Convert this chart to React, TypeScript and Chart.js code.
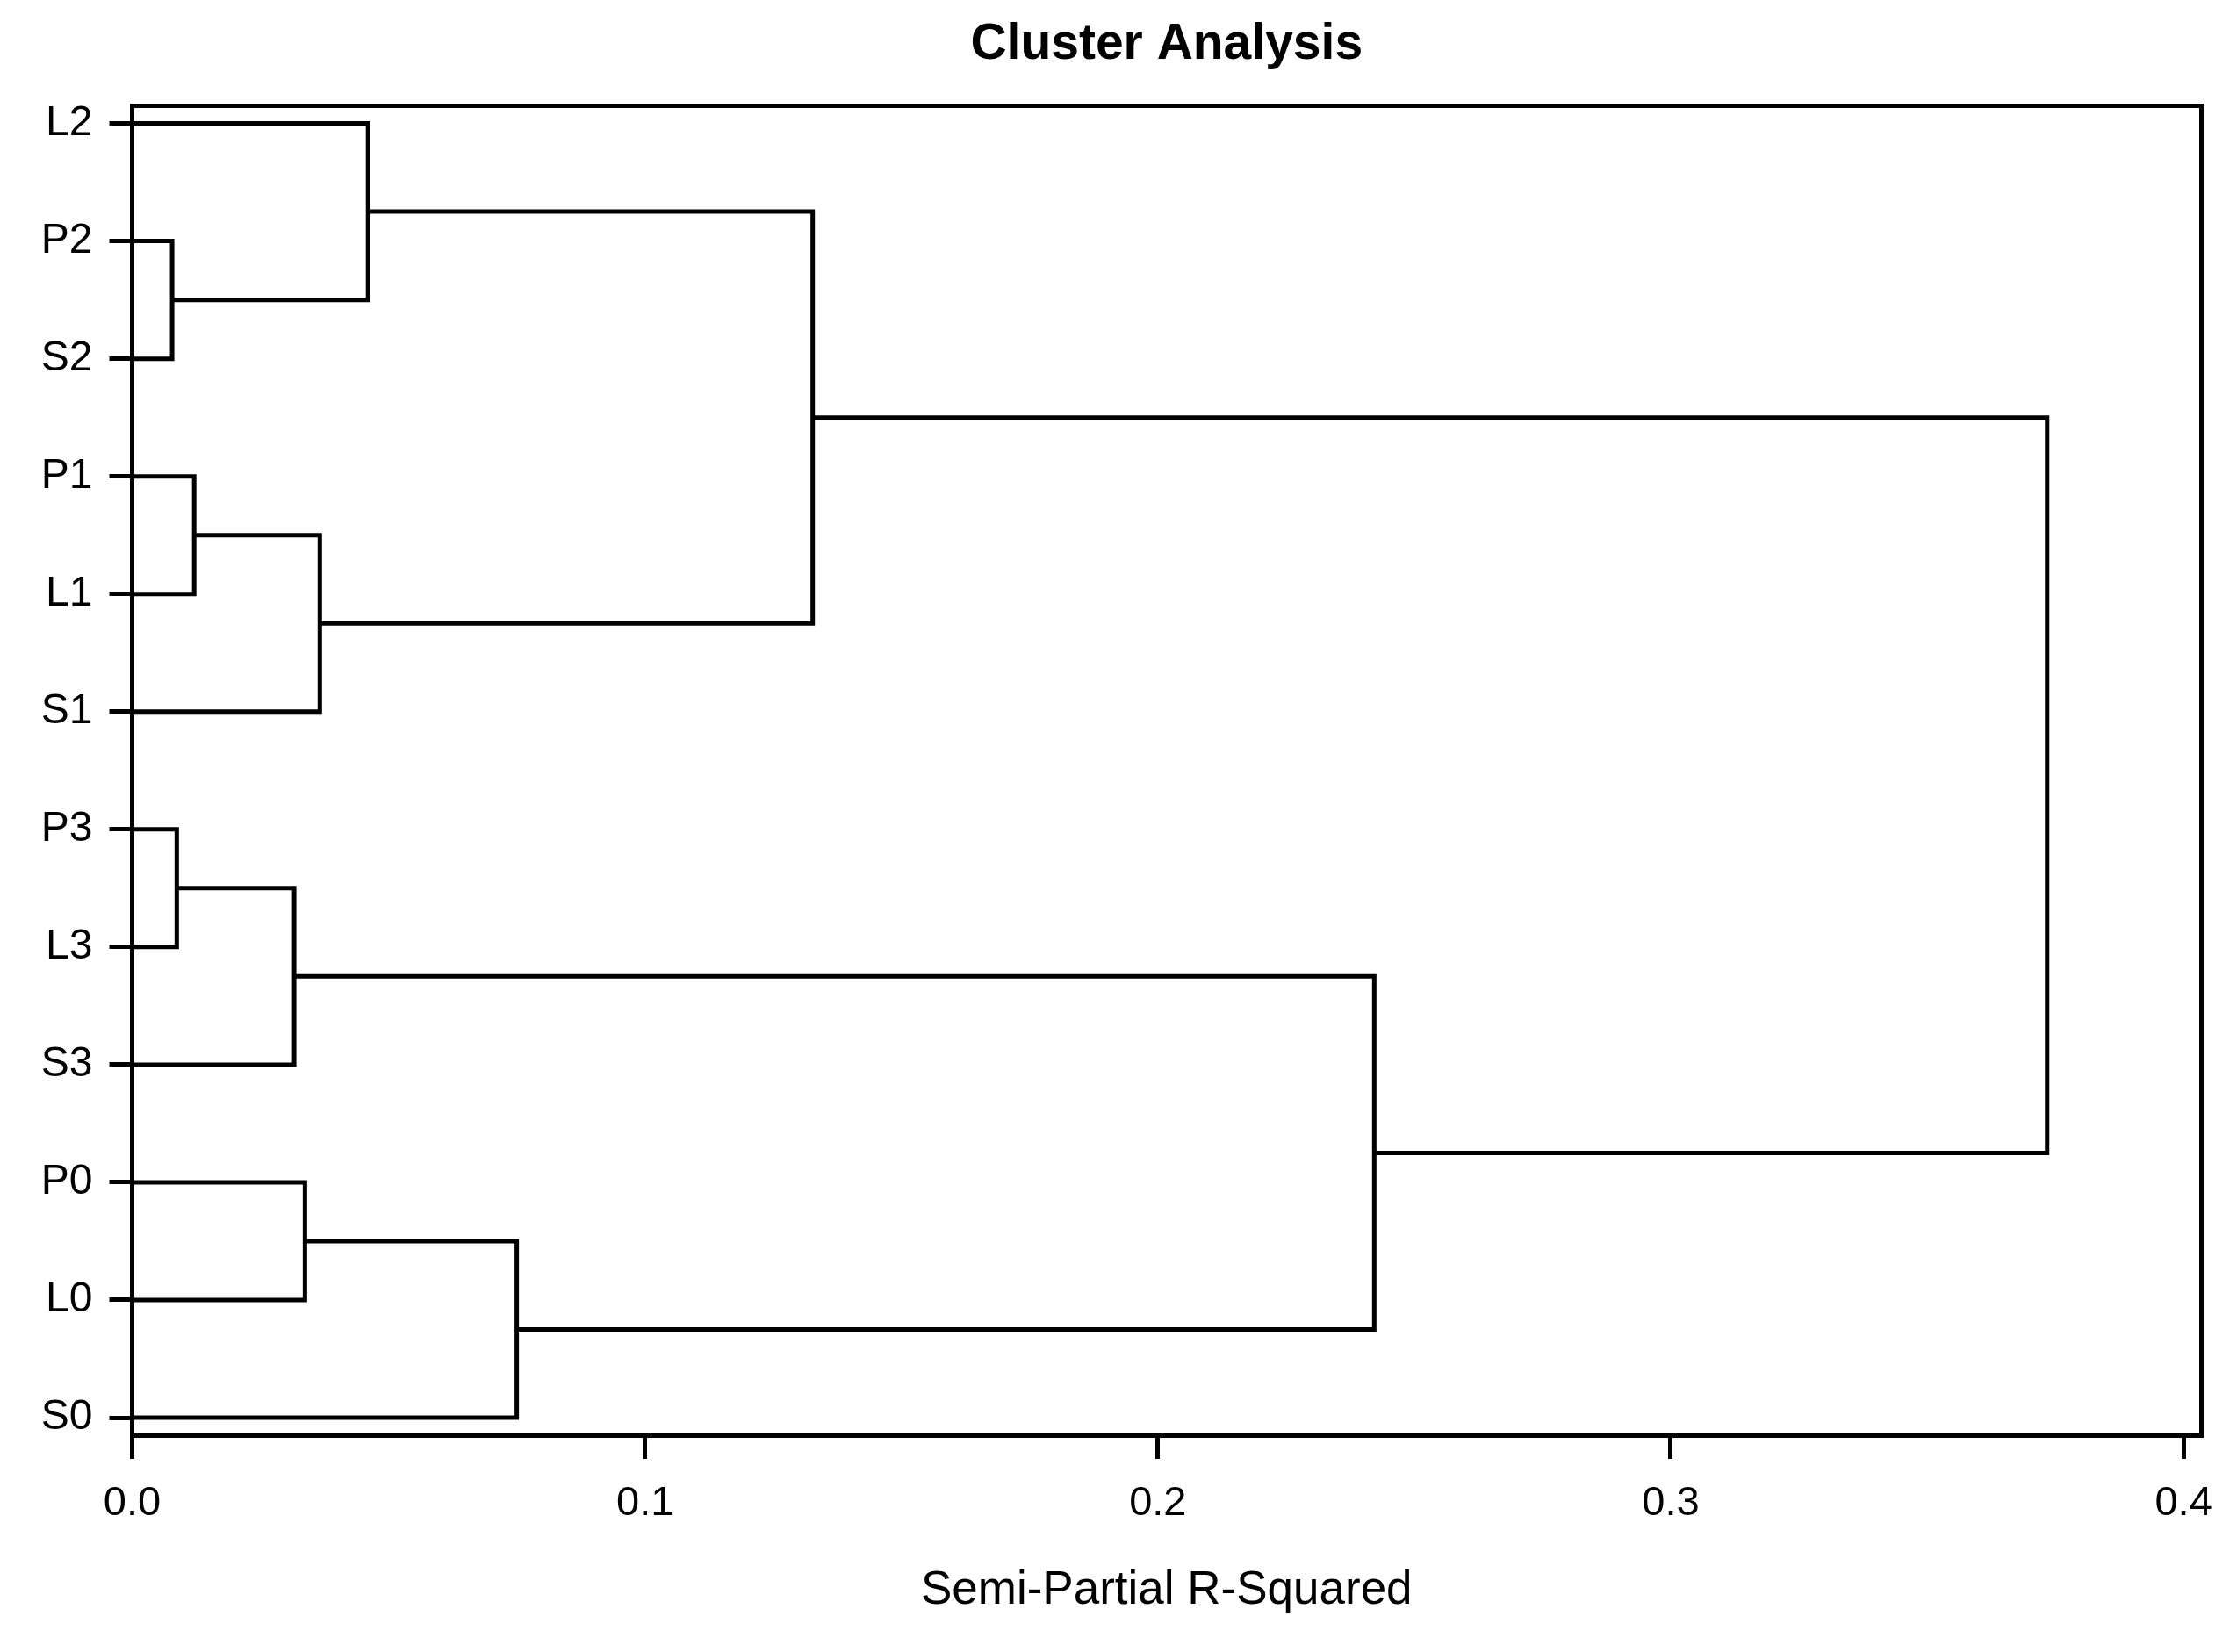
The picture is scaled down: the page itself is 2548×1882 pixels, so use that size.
import React, { useEffect, useRef } from "react";
import { Chart, registerables } from "chart.js";

Chart.register(...registerables);

// Leaves from top to bottom
const leafNames = ["L2", "P2", "S2", "P1", "L1", "S1", "P3", "L3", "S3", "P0", "L0", "S0"];
// Merge steps: node ids 0..11 are leaves, merge k creates node 12 + k
const mergeLeft = [1, 0, 3, 14, 13, 6, 17, 9, 19, 18, 16];
const mergeRight = [2, 12, 4, 5, 15, 7, 8, 10, 11, 20, 21];
const mergeHeight = [0.0078, 0.046, 0.0121, 0.0366, 0.1327, 0.0087, 0.0316, 0.0337, 0.075, 0.2422, 0.3734];
const xTickValues = [0, 0.1, 0.2, 0.3, 0.4];

const FONT = "'Liberation Sans', Arial, Helvetica, sans-serif";
const LW = 5;

function buildDatasets() {
  const nodeX: number[] = leafNames.map(() => 0);
  const nodeY: number[] = leafNames.map((_, i) => i);
  const datasets: any[] = [];
  mergeHeight.forEach((h, k) => {
    const a = mergeLeft[k];
    const b = mergeRight[k];
    datasets.push({
      data: [
        { x: nodeX[a], y: nodeY[a] },
        { x: h, y: nodeY[a] },
        { x: h, y: nodeY[b] },
        { x: nodeX[b], y: nodeY[b] },
      ],
      showLine: true,
      borderColor: "#000",
      backgroundColor: "#000",
      borderWidth: LW,
      pointRadius: 0,
      tension: 0,
      borderJoinStyle: "miter",
      borderCapStyle: "butt",
      clip: false,
    });
    nodeX.push(h);
    nodeY.push((nodeY[a] + nodeY[b]) / 2);
  });
  return datasets;
}

export default function App() {
  const ref = useRef<HTMLCanvasElement | null>(null);
  useEffect(() => {
    if (!ref.current) return;
    const chart = new Chart(ref.current, {
      type: "scatter",
      data: { datasets: buildDatasets() },
      options: {
        animation: false,
        responsive: false,
        events: [],
        layout: { padding: { left: 0, right: 0, top: 0, bottom: 0 } },
        plugins: {
          legend: { display: false },
          tooltip: { enabled: false },
          title: {
            display: true,
            fullSize: false,
            text: "Cluster Analysis",
            color: "#000",
            font: { family: FONT, size: 57, weight: "bold" },
            padding: { top: 17, bottom: 35.2 },
          },
        },
        scales: {
          x: {
            type: "linear",
            position: "bottom",
            min: 0,
            max: 0.4034,
            afterBuildTicks: (s: any) => {
              s.ticks = xTickValues.map((v) => ({ value: v }));
            },
            afterFit: (s: any) => {
              s.height = 247;
            },
            ticks: {
              color: "#000",
              font: { family: FONT, size: 47 },
              padding: 23,
              maxRotation: 0,
              callback: (v: any) => Number(v).toFixed(1),
            },
            grid: {
              display: true,
              drawOnChartArea: false,
              drawTicks: true,
              tickLength: 27,
              lineWidth: LW,
              tickWidth: LW,
              color: "#000",
              tickColor: "#000",
            },
            border: { display: true, color: "#000", width: LW },
            title: {
              display: true,
              text: "Semi-Partial R-Squared",
              color: "#000",
              font: { family: FONT, size: 53 },
              padding: { top: 0, bottom: 37.7 },
            },
          },
          x2: {
            type: "linear",
            position: "top",
            min: 0,
            max: 0.4034,
            afterFit: (s: any) => {
              s.height = 0;
            },
            ticks: { display: false },
            grid: { display: false },
            border: { display: true, color: "#000", width: LW },
          },
          y: {
            type: "linear",
            position: "left",
            reverse: true,
            min: -0.149,
            max: leafNames.length - 1 + 0.149,
            afterBuildTicks: (s: any) => {
              s.ticks = leafNames.map((_, i) => ({ value: i }));
            },
            afterFit: (s: any) => {
              s.width = 150.5;
            },
            ticks: {
              color: "#000",
              font: { family: FONT, size: 48 },
              padding: 19,
              autoSkip: false,
              callback: (v: any) => leafNames[Math.round(Number(v))] ?? "",
            },
            grid: {
              display: true,
              drawOnChartArea: false,
              drawTicks: true,
              tickLength: 26,
              lineWidth: LW,
              tickWidth: LW,
              color: "#000",
              tickColor: "#000",
            },
            border: { display: true, color: "#000", width: LW },
          },
          y2: {
            type: "linear",
            position: "right",
            min: 0,
            max: 1,
            afterFit: (s: any) => {
              s.width = 41;
            },
            ticks: { display: false },
            grid: { display: false },
            border: { display: true, color: "#000", width: LW },
          },
        },
      } as any,
    });
    return () => chart.destroy();
  }, []);
  return (
    <div style={{ position: "fixed", left: 0, top: 0, width: 2548, height: 1882, background: "#fff" }}>
      <canvas ref={ref} width={2548} height={1882} style={{ display: "block", width: 2548, height: 1882 }} />
    </div>
  );
}
